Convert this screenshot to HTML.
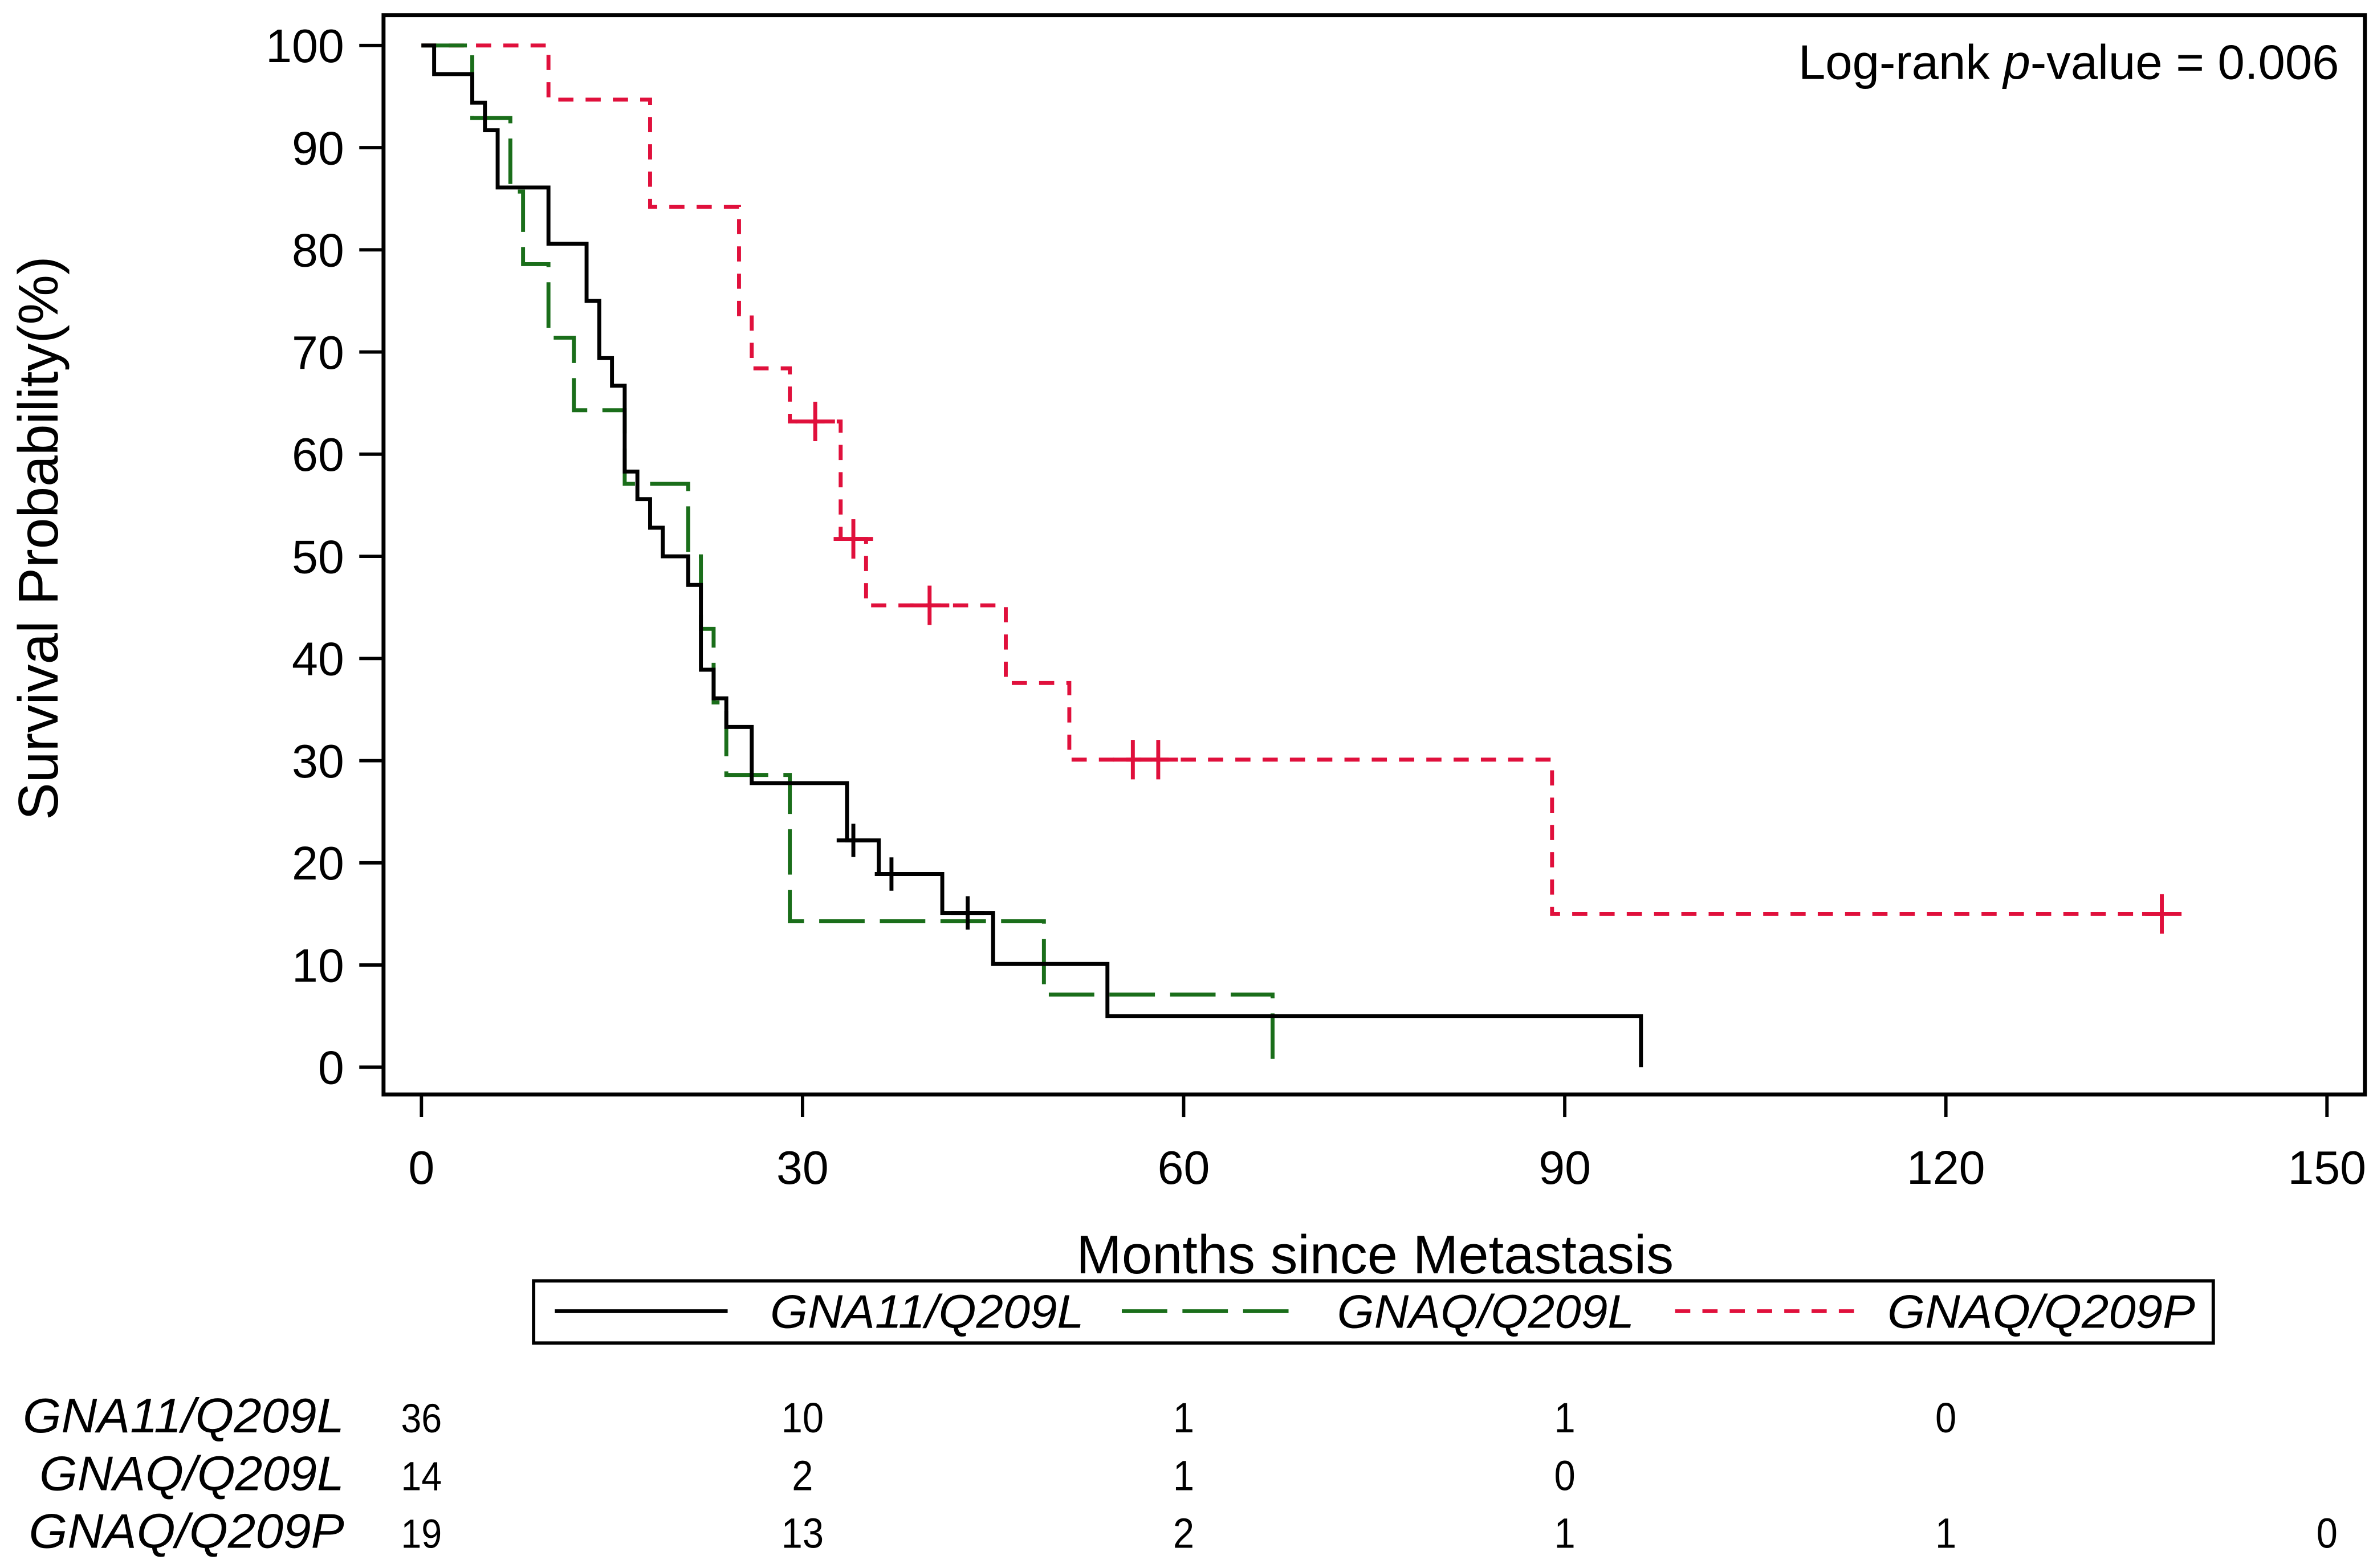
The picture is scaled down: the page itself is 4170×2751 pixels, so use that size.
<!DOCTYPE html>
<html><head><meta charset="utf-8"><style>
html,body{margin:0;padding:0;background:#fff}
svg{display:block}
text{font-family:"Liberation Sans",Arial,sans-serif;fill:#000}
</style></head><body>
<svg id="chart" width="4170" height="2751" viewBox="0 0 1568 1034.4" xmlns="http://www.w3.org/2000/svg">
<rect x="253" y="10" width="1307" height="712" fill="none" stroke="#000" stroke-width="2.6"/>
<g id="yaxis"></g>
<g id="xaxis"></g>
<g id="series"></g>
<text x="38" y="355" font-size="37" text-anchor="middle" transform="rotate(-90 38 355)">Survival Probability(%)</text>
<text x="907" y="840" font-size="36" text-anchor="middle">Months since Metastasis</text>
<text x="1543" y="52" font-size="32" text-anchor="end">Log-rank <tspan font-style="italic">p</tspan>-value = 0.006</text>
<g>
<rect x="352" y="845" width="1108" height="41" fill="none" stroke="#000" stroke-width="2.2"/>
<line x1="366" y1="865" x2="480" y2="865" stroke="#000" stroke-width="2.5"/>
<text x="508" y="876" font-size="31" font-style="italic" textLength="207" lengthAdjust="spacingAndGlyphs">GNA11/Q209L</text>
<line x1="740" y1="865" x2="860" y2="865" stroke="#1a6e1a" stroke-width="2.5" stroke-dasharray="30 10"/>
<text x="882" y="876" font-size="31" font-style="italic" textLength="196" lengthAdjust="spacingAndGlyphs">GNAQ/Q209L</text>
<line x1="1105" y1="865" x2="1225" y2="865" stroke="#e0103c" stroke-width="2.5" stroke-dasharray="10 8"/>
<text x="1245" y="876" font-size="31" font-style="italic" textLength="203" lengthAdjust="spacingAndGlyphs">GNAQ/Q209P</text>
</g>
<g id="risk"></g>
</svg>
<script>
const yTicks = [0,10,20,30,40,50,60,70,80,90,100];
const xTicks = [0,30,60,90,120,150];
const riskGroups = ["GNA11/Q209L","GNAQ/Q209L","GNAQ/Q209P"];
const riskGna11 = [36,10,1,1,0];
const riskGnaqL = [14,2,1,0];
const riskGnaqP = [19,13,2,1,1,0];
const gna11Times = [0,1,4,5,6,10,13,14,15,16,17,18,19,21,22,23,24,26,33.5,36,41,45,54,96];
const gna11Surv  = [100,97.2,94.4,91.7,86.1,80.6,75,69.4,66.7,58.3,55.6,52.8,50,47.2,38.9,36.1,33.3,27.8,22.2,18.9,15.1,10.1,5,0];
const gna11Censor = [34,37,43];
const gnaqLTimes = [0,4,7,8,10,12,16,21,22,23,24,29,49,67];
const gnaqLSurv  = [100,92.9,85.7,78.6,71.4,64.3,57.1,50,42.9,35.7,28.6,14.3,7.1,0];
const gnaqLCensor = [];
const gnaqPTimes = [0,10,18,25,26,29,30,33,35,46,51,89];
const gnaqPSurv  = [100,94.7,84.2,73.7,68.4,63.2,63.2,51.7,45.2,37.6,30.1,15];
const gnaqPCensor = [31,34,40,56,58,137];
const gnaqPEnd = 137;

const NS="http://www.w3.org/2000/svg";
const xs = m => 278 + m*8.38;
const ys = p => 704 - p*6.74;
function mk(tag, attrs, parent){const e=document.createElementNS(NS,tag);for(const k in attrs)e.setAttribute(k,attrs[k]);parent.appendChild(e);return e;}
const yA=document.getElementById('yaxis'), xA=document.getElementById('xaxis'), S=document.getElementById('series'), R=document.getElementById('risk');
yTicks.forEach(v=>{
  const l=mk('line',{x1:237,x2:253,y1:ys(v),y2:ys(v),stroke:'#000','stroke-width':2.2},yA);
  
  
  const t=mk('text',{x:227,y:ys(v)+11,'font-size':31,'text-anchor':'end'},yA);t.textContent=v;
  
  
});
xTicks.forEach(v=>{
  const l=mk('line',{x1:xs(v),x2:xs(v),y1:722,y2:737,stroke:'#000','stroke-width':2.2},xA);
  
  
  const t=mk('text',{x:xs(v),y:781,'font-size':31,'text-anchor':'middle'},xA);t.textContent=v;
  
  
});
function stepPath(times,surv,end){
  let d='M'+xs(times[0])+','+ys(surv[0]);
  for(let i=1;i<times.length;i++){d+=' H'+xs(times[i])+' V'+ys(surv[i]);}
  if(end!==undefined) d+=' H'+xs(end);
  return d;
}
function survAt(times,surv,t){let s=surv[0];for(let i=0;i<times.length;i++){if(times[i]<=t)s=surv[i];}return s;}
function drawSeries(name,times,surv,cens,color,dash,end,size){
  const p=mk('path',{d:stepPath(times,surv,end),fill:'none',stroke:color,'stroke-width':2.6,'stroke-dasharray':dash},S);
  
  
  cens.forEach(c=>{
    const v=survAt(times,surv,c);
    const g=mk('path',{d:`M${xs(c)-size},${ys(v)} H${xs(c)+size} M${xs(c)},${ys(v)-size} V${ys(v)+size}`,stroke:color,'stroke-width':2.6},S);
    
    
  });
}
drawSeries('gnaq-q209p',gnaqPTimes,gnaqPSurv,gnaqPCensor,'#e0103c','10 8',gnaqPEnd,13);
drawSeries('gnaq-q209l',gnaqLTimes,gnaqLSurv,gnaqLCensor,'#1a6e1a','30 10',undefined,12);
drawSeries('gna11-q209l',gna11Times,gna11Surv,gna11Censor,'#000','none',undefined,11);
const rows=[riskGna11,riskGnaqL,riskGnaqP], rowY=[945,983,1021], labW=[212,201,208];
rows.forEach((arr,i)=>{
  const lab=mk('text',{x:227,y:rowY[i],'font-size':32,'font-style':'italic','text-anchor':'end',textLength:labW[i],lengthAdjust:'spacingAndGlyphs'},R);lab.textContent=riskGroups[i];
  
  
  arr.forEach((n,j)=>{
    const s=String(n);
    const t=mk('text',{x:xs(xTicks[j]),y:rowY[i],'font-size':j===0?27:28,'text-anchor':'middle',textLength:s.length*(j===0?13.5:14),lengthAdjust:'spacingAndGlyphs'},R);t.textContent=s;
    
    
  });
});
</script>
</body></html>
